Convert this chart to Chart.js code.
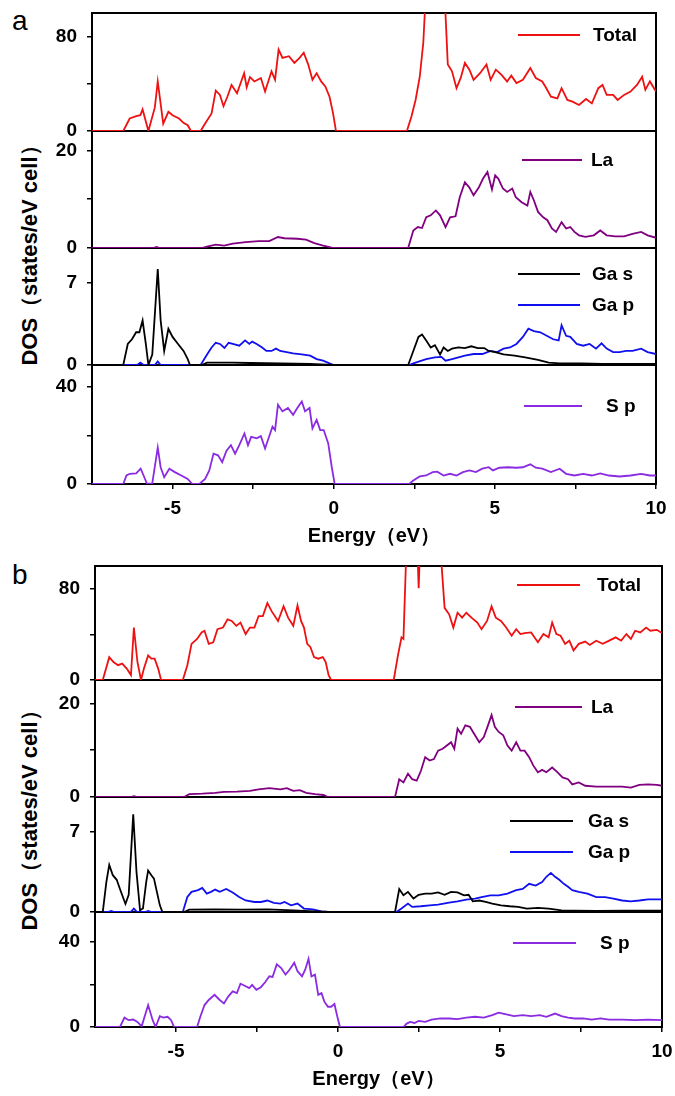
<!DOCTYPE html>
<html><head><meta charset="utf-8">
<script src="https://cdn.jsdelivr.net/npm/chart.js@4.4.1/dist/chart.umd.min.js"></script>
<style>
html,body{margin:0;padding:0;background:#fff;}
body{width:675px;height:1096px;position:relative;overflow:hidden;font-family:"Liberation Sans",Arial,sans-serif;}
canvas{position:absolute;left:0;}
.panel{position:absolute;font-size:28px;color:#000;}
.ytitle{position:absolute;font-weight:bold;font-size:22px;white-space:nowrap;transform:translate(-50%,-50%) rotate(-90deg);color:#000;}
</style>
</head><body>
<div class="panel" style="left:12px;top:5px;">a</div>
<div class="panel" style="left:12px;top:559px;">b</div>
<div class="ytitle" style="left:30px;top:250px;">DOS（states/eV cell）</div>
<div class="ytitle" style="left:30px;top:815px;">DOS（states/eV cell）</div>
<script>
// ---------- DATA (energy eV, DOS) ----------
const xTickValues = [-5, -2.5, 0, 2.5, 5, 7.5, 10];
const xTickLabels = [-5, 0, 5, 10];

// Panel a
const totalA = [[-7.5,0],[-6.53,0],[-6.33,10.6],[-6.13,12.6],[-6.0,13.4],[-5.93,18.3],[-5.75,0],[-5.55,20],[-5.46,42],[-5.29,6.3],[-5.13,16.3],[-5.0,13.4],[-4.8,10.6],[-4.66,6.9],[-4.53,4.9],[-4.43,0],[-4.13,0],[-3.99,6.3],[-3.79,14.9],[-3.66,34.3],[-3.53,30.6],[-3.42,21],[-3.3,29],[-3.17,39],[-3.0,32],[-2.78,49],[-2.7,37],[-2.6,45.7],[-2.46,42],[-2.26,44.9],[-2.13,33.4],[-1.93,50.6],[-1.82,43.4],[-1.71,69],[-1.59,62],[-1.39,63.4],[-1.22,57.7],[-1.06,62],[-0.93,66.3],[-0.79,56.3],[-0.66,43.4],[-0.53,49],[-0.39,42],[-0.26,37.7],[-0.13,29],[-0.02,14.9],[0.07,0],[2.27,0],[2.41,12],[2.54,26.3],[2.67,46],[2.78,75],[2.9,140],[3.4,140],[3.54,56.3],[3.67,50.6],[3.81,36.3],[3.94,45],[4.07,57.7],[4.21,52],[4.34,43.4],[4.54,49],[4.74,56.3],[4.87,43.4],[5.03,52],[5.2,47.7],[5.38,42],[5.51,46.9],[5.67,40.6],[5.87,43.4],[6.1,53.4],[6.27,44.9],[6.47,42],[6.58,37.1],[6.74,29.1],[6.94,27.7],[7.07,36.3],[7.25,26.3],[7.41,24.9],[7.61,22],[7.83,27.1],[8.01,23.4],[8.21,36.3],[8.34,39],[8.47,30.6],[8.67,30.6],[8.81,26.3],[9.01,30.6],[9.21,33.4],[9.41,39],[9.57,46],[9.67,34.9],[9.81,42],[10,33.4]];
const laA = [[-7.5,0],[-5.6,0],[-5.5,0.2],[-5.4,0],[-4.1,0],[-3.93,0.3],[-3.66,0.7],[-3.4,0.5],[-3.13,0.9],[-2.73,1.2],[-2.33,1.4],[-2.0,1.4],[-1.73,2.25],[-1.53,2.0],[-1.13,1.9],[-0.86,1.7],[-0.6,1.0],[-0.33,0.5],[-0.06,0.07],[0.1,0],[2.31,0],[2.47,3.6],[2.61,4.3],[2.74,4.1],[2.87,6.3],[3.01,6.7],[3.17,7.7],[3.3,6.7],[3.47,4.3],[3.61,6.3],[3.78,6.5],[3.91,10.4],[4.07,13.5],[4.21,12.4],[4.34,10.8],[4.5,12.4],[4.63,14.2],[4.77,15.6],[4.91,12],[5.01,14.9],[5.11,14.2],[5.25,12.2],[5.38,11.5],[5.54,12.2],[5.65,10.4],[5.83,9.4],[6.01,8.7],[6.1,11.5],[6.21,9.8],[6.34,7.4],[6.5,6.3],[6.63,5.7],[6.77,4.0],[6.9,3.3],[7.07,5.3],[7.21,4.0],[7.34,4.3],[7.47,3.3],[7.61,2.6],[7.81,2.3],[8.07,2.6],[8.27,3.6],[8.47,2.6],[8.74,2.4],[9.01,2.4],[9.27,2.9],[9.54,3.3],[9.74,2.6],[10,2.1]];
const gasA = [[-7.5,0],[-6.53,0],[-6.39,1.8],[-6.26,2.2],[-6.13,2.8],[-6.03,2.8],[-5.93,3.8],[-5.83,1.8],[-5.75,0],[-5.63,0.9],[-5.46,8.2],[-5.37,3.8],[-5.26,1.2],[-5.13,3.1],[-5.0,2.4],[-4.83,1.8],[-4.66,1.2],[-4.53,0.5],[-4.46,0],[-4.1,0],[-3.93,0.2],[-3.13,0.2],[-2.6,0.17],[-1.66,0.14],[-0.73,0.1],[-0.06,0],[2.31,0],[2.47,1.2],[2.63,2.4],[2.74,2.6],[2.87,2.1],[3.01,1.5],[3.14,1.7],[3.3,0.9],[3.41,1.5],[3.54,1.2],[3.67,1.4],[3.87,1.5],[4.07,1.45],[4.27,1.6],[4.47,1.45],[4.67,1.45],[4.81,1.2],[5.01,1.1],[5.27,0.9],[5.61,0.8],[5.94,0.66],[6.34,0.43],[6.67,0.2],[7.01,0.14],[7.67,0.14],[8.34,0.1],[9.14,0.1],[10,0.1]];
const gapA = [[-7.5,0],[-6.1,0],[-6.0,0.2],[-5.9,0],[-5.55,0],[-5.46,0.3],[-5.37,0],[-4.13,0],[-3.93,0.9],[-3.79,1.5],[-3.66,1.9],[-3.53,1.8],[-3.39,1.45],[-3.26,1.9],[-3.13,1.8],[-2.93,1.65],[-2.75,2.1],[-2.62,1.8],[-2.53,2.0],[-2.39,1.8],[-2.22,1.5],[-2.09,1.2],[-1.93,1.2],[-1.79,1.4],[-1.66,1.2],[-1.46,1.1],[-1.26,1.0],[-0.99,0.9],[-0.73,0.8],[-0.53,0.5],[-0.33,0.37],[-0.13,0.14],[0.0,0],[2.34,0],[2.47,0.14],[2.87,0.5],[3.14,0.66],[3.34,0.7],[3.47,0.37],[3.67,0.5],[3.87,0.66],[4.07,0.8],[4.34,0.94],[4.61,0.94],[4.87,1.2],[5.07,1.1],[5.27,1.4],[5.47,1.5],[5.67,1.8],[5.87,2.4],[6.04,3.1],[6.21,2.9],[6.41,2.8],[6.61,2.5],[6.81,2.2],[6.98,2.1],[7.07,3.4],[7.21,2.5],[7.34,2.4],[7.54,1.8],[7.74,1.65],[7.94,1.8],[8.14,1.4],[8.31,1.85],[8.47,1.4],[8.67,1.1],[8.87,1.1],[9.07,1.2],[9.27,1.2],[9.54,1.4],[9.74,1.1],[10,0.94]];
const spA = [[-7.5,0],[-6.53,0],[-6.43,3.5],[-6.33,4.2],[-6.13,4.4],[-5.99,6.3],[-5.9,3.5],[-5.79,0],[-5.63,0.3],[-5.46,15],[-5.37,6.9],[-5.26,2.8],[-5.1,6.3],[-4.93,4.9],[-4.73,3.5],[-4.53,2.1],[-4.39,0],[-4.17,0],[-3.99,2.1],[-3.86,5.6],[-3.73,12.5],[-3.59,11.8],[-3.46,9],[-3.33,13.6],[-3.19,16],[-3.06,12.5],[-2.93,16],[-2.77,20.8],[-2.66,16],[-2.56,19.4],[-2.39,18.8],[-2.26,19.7],[-2.13,14.6],[-1.99,20.1],[-1.9,23.6],[-1.82,22.2],[-1.73,32.6],[-1.59,29.9],[-1.42,31.3],[-1.26,28.5],[-1.13,31.3],[-0.99,34],[-0.89,29.9],[-0.75,31.3],[-0.66,22.9],[-0.53,26.4],[-0.42,22.2],[-0.31,22.2],[-0.17,16.7],[-0.06,6.9],[0.03,0],[2.34,0],[2.47,1.4],[2.67,3.1],[2.87,3.5],[3.07,4.9],[3.21,5.1],[3.41,3.5],[3.61,4.2],[3.81,3.5],[4.01,4.9],[4.21,5.6],[4.41,4.9],[4.61,6.3],[4.81,6.9],[4.94,5.6],[5.14,6.7],[5.41,6.9],[5.67,6.7],[5.87,6.9],[6.1,8.1],[6.27,6.7],[6.47,6.3],[6.74,4.9],[7.01,6.3],[7.21,4.2],[7.47,3.5],[7.74,4.2],[8.01,3.5],[8.27,4.4],[8.54,3.5],[8.87,3.1],[9.21,3.5],[9.54,4.2],[9.81,3.5],[10,3.5]];

// Panel b
const totalB = [[-7.5,0],[-7.26,0],[-7.06,20],[-6.93,15.8],[-6.79,13],[-6.66,14.4],[-6.52,10],[-6.39,4.3],[-6.3,46],[-6.19,15.8],[-6.08,0],[-5.99,10],[-5.86,21.6],[-5.76,18.7],[-5.66,18.7],[-5.55,10],[-5.46,0],[-4.79,0],[-4.65,13],[-4.52,31.7],[-4.35,36],[-4.21,41.7],[-4.12,43.2],[-3.99,31.7],[-3.85,33.1],[-3.72,44.6],[-3.55,46],[-3.41,53.2],[-3.28,51.8],[-3.14,47.5],[-3.01,50.4],[-2.85,40.3],[-2.72,46],[-2.58,46],[-2.45,56.1],[-2.32,56.1],[-2.18,67.6],[-2.05,60.4],[-1.85,51.8],[-1.68,64.7],[-1.54,54.7],[-1.38,47.5],[-1.25,65.3],[-1.14,51.8],[-1.05,46],[-0.95,31.7],[-0.85,28.8],[-0.74,20.1],[-0.61,18.7],[-0.47,20.1],[-0.38,15.8],[-0.29,4.3],[-0.21,0],[1.72,0],[1.85,21.6],[1.96,37.4],[2.02,36],[2.14,140],[2.42,140],[2.49,80.6],[2.56,140],[3.1,140],[3.29,63.3],[3.43,57.6],[3.56,46],[3.69,59],[3.83,54.7],[3.96,59],[4.12,54.7],[4.3,50.4],[4.43,44.6],[4.6,51.8],[4.74,64.7],[4.87,54.7],[5.03,51.8],[5.19,46],[5.36,38.8],[5.5,44.6],[5.63,40.3],[5.76,41.2],[5.96,41.7],[6.17,33.1],[6.34,40.3],[6.5,37.4],[6.61,50.4],[6.74,40.3],[6.87,38.8],[7.01,31.7],[7.14,34.5],[7.27,25.9],[7.43,31.7],[7.63,33.7],[7.77,30.8],[7.97,34.5],[8.17,31.7],[8.37,34.5],[8.57,37.4],[8.74,34.5],[8.9,40.3],[9.04,36],[9.17,43.2],[9.33,41.7],[9.51,46],[9.64,43.2],[9.84,44],[10,41.2]];
const laB = [[-7.5,0],[-6.4,0],[-6.3,0.2],[-6.2,0],[-4.75,0],[-4.59,0.6],[-4.19,0.7],[-3.79,0.9],[-3.52,1.1],[-3.12,1.15],[-2.72,1.3],[-2.45,1.65],[-2.12,1.9],[-1.78,1.65],[-1.58,1.9],[-1.38,1.3],[-1.18,1.45],[-0.98,0.9],[-0.71,0.6],[-0.45,0.43],[-0.31,0],[1.76,0],[1.89,3.8],[2.02,3.1],[2.16,5.0],[2.29,3.8],[2.43,3.5],[2.56,5.6],[2.69,8.5],[2.83,7.8],[2.96,8.1],[3.09,9.9],[3.23,10.3],[3.36,11],[3.49,11.7],[3.59,10.3],[3.69,14.6],[3.8,13.5],[3.93,15.3],[4.07,15],[4.2,13.5],[4.36,11.7],[4.5,12.8],[4.63,15.3],[4.74,17.5],[4.84,15],[4.96,13.9],[5.1,13.2],[5.23,11],[5.36,9.9],[5.5,11.7],[5.63,9.9],[5.76,9.9],[5.9,8.5],[6.03,6.7],[6.17,5.3],[6.3,5.8],[6.43,5.3],[6.61,6.3],[6.77,5.3],[6.93,4.2],[7.1,3.8],[7.23,2.7],[7.43,3.1],[7.63,2.4],[7.97,2.2],[8.37,2.2],[8.77,2.2],[9.04,2.0],[9.3,2.6],[9.57,2.7],[9.84,2.6],[10,2.4]];
const gasB = [[-7.5,0],[-7.26,0],[-7.15,2.6],[-7.06,4.1],[-6.95,3.2],[-6.83,2.8],[-6.73,2.0],[-6.56,0.7],[-6.46,1.5],[-6.32,8.5],[-6.22,3.5],[-6.11,0.15],[-6.02,0.3],[-5.92,2.6],[-5.86,3.6],[-5.76,3.2],[-5.68,2.9],[-5.59,1.75],[-5.5,0.6],[-5.42,0],[-4.75,0],[-4.59,0.2],[-3.79,0.23],[-2.98,0.2],[-2.18,0.23],[-1.38,0.15],[-0.71,0.06],[-0.25,0],[1.76,0],[1.89,2.0],[2.02,1.45],[2.16,1.75],[2.33,1.17],[2.49,1.5],[2.69,1.6],[2.89,1.6],[3.09,1.7],[3.29,1.5],[3.49,1.75],[3.69,1.7],[3.89,1.45],[4.03,1.5],[4.16,0.93],[4.36,1.0],[4.56,0.87],[4.76,0.73],[5.03,0.58],[5.3,0.5],[5.56,0.44],[5.83,0.3],[6.17,0.35],[6.5,0.3],[6.9,0.15],[7.3,0.12],[7.97,0.1],[8.9,0.12],[10,0.12]];
const gapB = [[-7.5,0],[-7.1,0],[-7.0,0.1],[-6.9,0],[-6.4,0],[-6.3,0.3],[-6.2,0],[-5.95,0],[-5.86,0.1],[-5.75,0],[-4.79,0],[-4.65,1.3],[-4.52,1.75],[-4.32,1.9],[-4.19,2.1],[-4.05,1.6],[-3.92,1.75],[-3.79,1.95],[-3.65,1.75],[-3.45,2.0],[-3.25,1.7],[-3.05,1.3],[-2.85,1.0],[-2.58,0.87],[-2.38,0.87],[-2.18,1.0],[-1.98,0.8],[-1.78,0.73],[-1.65,0.87],[-1.45,0.58],[-1.25,0.73],[-1.05,0.3],[-0.78,0.23],[-0.51,0.06],[-0.31,0],[1.8,0],[1.96,0.3],[2.16,0.73],[2.29,0.44],[2.56,0.5],[2.83,0.58],[3.09,0.64],[3.43,0.82],[3.69,0.93],[3.96,1.08],[4.23,1.17],[4.43,1.3],[4.7,1.45],[4.96,1.45],[5.23,1.6],[5.5,1.9],[5.7,2.0],[5.9,2.45],[6.1,2.3],[6.3,2.6],[6.43,3.06],[6.57,3.4],[6.7,3.06],[6.83,2.8],[6.97,2.45],[7.1,2.2],[7.23,1.9],[7.43,1.75],[7.7,1.6],[7.97,1.3],[8.24,1.3],[8.5,1.17],[8.77,1.0],[9.04,0.93],[9.3,1.0],[9.57,1.1],[10,1.1]];
const spB = [[-7.5,0],[-6.73,0],[-6.59,4.4],[-6.46,3.2],[-6.32,3.5],[-6.19,2.4],[-6.06,0.3],[-5.86,10.3],[-5.72,3.2],[-5.63,0],[-5.5,5.1],[-5.39,4.4],[-5.26,4.8],[-5.15,3.2],[-5.06,0],[-4.35,0],[-4.25,4.8],[-4.12,10.3],[-3.99,12.7],[-3.81,15.1],[-3.65,12.7],[-3.52,11.1],[-3.39,14.3],[-3.25,16.7],[-3.12,15.9],[-3.01,20.3],[-2.88,19.4],[-2.74,18.3],[-2.65,19.8],[-2.52,17.5],[-2.38,18.7],[-2.25,21],[-2.12,23.8],[-2.02,23.5],[-1.89,29.4],[-1.76,27.8],[-1.62,24.6],[-1.49,27],[-1.35,30.2],[-1.25,26.2],[-1.11,23.8],[-1.01,27],[-0.91,32],[-0.82,23.8],[-0.71,24.6],[-0.61,15.1],[-0.51,15.9],[-0.42,11.9],[-0.31,9.5],[-0.21,9.5],[-0.11,10.8],[-0.02,4.8],[0.06,0],[2.02,0],[2.12,1.6],[2.23,2.4],[2.36,1.9],[2.49,2.9],[2.69,2.4],[2.89,3.5],[3.16,4.0],[3.43,4.0],[3.69,3.7],[3.96,4.4],[4.23,4.8],[4.5,4.4],[4.76,5.6],[4.96,6.7],[5.16,6.0],[5.43,5.1],[5.7,5.6],[5.96,5.1],[6.23,5.6],[6.43,4.8],[6.7,6.3],[6.9,5.1],[7.1,4.4],[7.3,4.0],[7.57,4.0],[7.83,3.5],[8.1,4.0],[8.37,3.5],[8.77,3.5],[9.17,3.2],[9.57,3.5],[10,3.2]];

// y-axis ticks for each sub-plot
const totalTicks = [0, 40, 80], totalLabels = [0, 80];
const laTicks = [0, 10, 20], laLabels = [0, 20];
const gaTicks = [0, 7], gaLabels = [0, 7];
const spTicks = [0, 20, 40], spLabels = [0, 40];

// ---------- STYLE ----------
const FAMILY = "'Liberation Sans', Arial, Helvetica, sans-serif";
const RED = '#ee1111', PURPLE = '#800080', BLACK = '#000000', BLUE = '#1010ee', VIOLET = '#8a2be2';

const framePlugin = {
  id: 'frame',
  beforeDatasetsDraw(chart) {
    const a = chart.chartArea, c = chart.ctx;
    c.save(); c.strokeStyle = '#000'; c.lineWidth = 2;
    c.strokeRect(a.left, a.top, a.right - a.left, a.bottom - a.top);
    c.restore();
  },
  afterDatasetsDraw(chart) {
    const a = chart.chartArea, c = chart.ctx;
    const lg = chart.options.plugins.frame.legend || [];
    c.save();
    lg.forEach((L, i) => {
      const ds = chart.data.datasets[i];
      const y = a.top + L.y;
      c.strokeStyle = ds.borderColor; c.lineWidth = 2;
      c.beginPath(); c.moveTo(L.x1, y); c.lineTo(L.x2, y); c.stroke();
      c.fillStyle = '#000'; c.font = 'bold 19px ' + FAMILY; c.textBaseline = 'middle'; c.textAlign = 'left';
      c.fillText(ds.label, L.tx, y + 1);
    });
    c.restore();
  }
};

function makeSub(cfg) {
  const W = 720, padT = 26, padB = cfg.xAxis ? 64 : 26;
  const H = (cfg.bottom - cfg.top) + padT + padB;
  const cv = document.createElement('canvas');
  cv.width = W; cv.height = H;
  cv.style.top = (cfg.top - padT) + 'px';
  cv.style.width = W + 'px'; cv.style.height = H + 'px';
  cv.style.zIndex = cfg.z;
  document.body.appendChild(cv);
  const tickFont = { family: FAMILY, size: 19, weight: 'bold' };
  new Chart(cv, {
    type: 'line',
    data: {
      datasets: cfg.series.map(s => ({
        label: s.label,
        data: s.data.map(p => ({ x: p[0], y: p[1] })),
        borderColor: s.color, borderWidth: 1.8, pointRadius: 0, tension: 0, fill: false
      }))
    },
    options: {
      responsive: false, animation: false, events: [],
      layout: { padding: { left: 0, right: W - cfg.right, top: padT, bottom: cfg.xAxis ? 0 : padB } },
      plugins: { legend: { display: false }, tooltip: { enabled: false }, frame: { legend: cfg.series.map(s => s.lg) } },
      scales: {
        x: {
          type: 'linear', min: -7.5, max: 10, display: !!cfg.xAxis,
          afterBuildTicks: sc => { sc.ticks = xTickValues.map(v => ({ value: v })); },
          afterFit: sc => { sc.height = cfg.xAxis ? padB : 0; },
          border: { display: false },
          grid: { display: true, drawOnChartArea: false, drawTicks: true, tickLength: 5, color: '#000', lineWidth: 1.5 },
          ticks: { autoSkip: false, maxRotation: 0, padding: 8, color: '#000', font: tickFont,
                   callback: v => xTickLabels.includes(v) ? String(v) : '' },
          title: { display: !!cfg.xAxis, text: 'Energy（eV）', color: '#000', font: { family: FAMILY, size: 20, weight: 'bold' }, padding: { top: 2, bottom: 0 } }
        },
        y: {
          type: 'linear', min: 0, max: cfg.max,
          afterBuildTicks: sc => { sc.ticks = cfg.ticks.map(v => ({ value: v })); },
          afterFit: sc => { sc.width = cfg.left; },
          border: { display: false },
          grid: { display: true, drawOnChartArea: false, drawTicks: true, tickLength: 5, color: '#000', lineWidth: 1.5 },
          ticks: { padding: 10, color: '#000', font: tickFont,
                   callback: v => cfg.labels.includes(v) ? String(v) : '' }
        }
      }
    },
    plugins: [framePlugin]
  });
}

// Panel a
makeSub({ left: 92, right: 656, top: 13, bottom: 131, max: 100, ticks: totalTicks, labels: totalLabels, z: 8,
  series: [{ label: 'Total', data: totalA, color: RED, lg: { x1: 518, x2: 580, tx: 593, y: 22 } }] });
makeSub({ left: 92, right: 656, top: 131, bottom: 248, max: 24, ticks: laTicks, labels: laLabels, z: 7,
  series: [{ label: 'La', data: laA, color: PURPLE, lg: { x1: 522, x2: 582, tx: 591, y: 29 } }] });
makeSub({ left: 92, right: 656, top: 248, bottom: 365, max: 10, ticks: gaTicks, labels: gaLabels, z: 6,
  series: [{ label: 'Ga s', data: gasA, color: BLACK, lg: { x1: 518, x2: 580, tx: 592, y: 26 } },
           { label: 'Ga p', data: gapA, color: BLUE, lg: { x1: 518, x2: 580, tx: 592, y: 57 } }] });
makeSub({ left: 92, right: 656, top: 365, bottom: 484, max: 49, ticks: spTicks, labels: spLabels, z: 5, xAxis: true,
  series: [{ label: 'S p', data: spA, color: VIOLET, lg: { x1: 524, x2: 582, tx: 606, y: 41 } }] });

// Panel b
makeSub({ left: 95, right: 662, top: 566, bottom: 680, max: 100, ticks: totalTicks, labels: totalLabels, z: 4,
  series: [{ label: 'Total', data: totalB, color: RED, lg: { x1: 517, x2: 580, tx: 597, y: 19 } }] });
makeSub({ left: 95, right: 662, top: 680, bottom: 797, max: 25, ticks: laTicks, labels: laLabels, z: 3,
  series: [{ label: 'La', data: laB, color: PURPLE, lg: { x1: 515, x2: 582, tx: 591, y: 27 } }] });
makeSub({ left: 95, right: 662, top: 797, bottom: 912, max: 10, ticks: gaTicks, labels: gaLabels, z: 2,
  series: [{ label: 'Ga s', data: gasB, color: BLACK, lg: { x1: 510, x2: 573, tx: 588, y: 24 } },
           { label: 'Ga p', data: gapB, color: BLUE, lg: { x1: 510, x2: 573, tx: 588, y: 55 } }] });
makeSub({ left: 95, right: 662, top: 912, bottom: 1027, max: 54, ticks: spTicks, labels: spLabels, z: 1, xAxis: true,
  series: [{ label: 'S p', data: spB, color: VIOLET, lg: { x1: 513, x2: 576, tx: 600, y: 31 } }] });
</script>
</body></html>
